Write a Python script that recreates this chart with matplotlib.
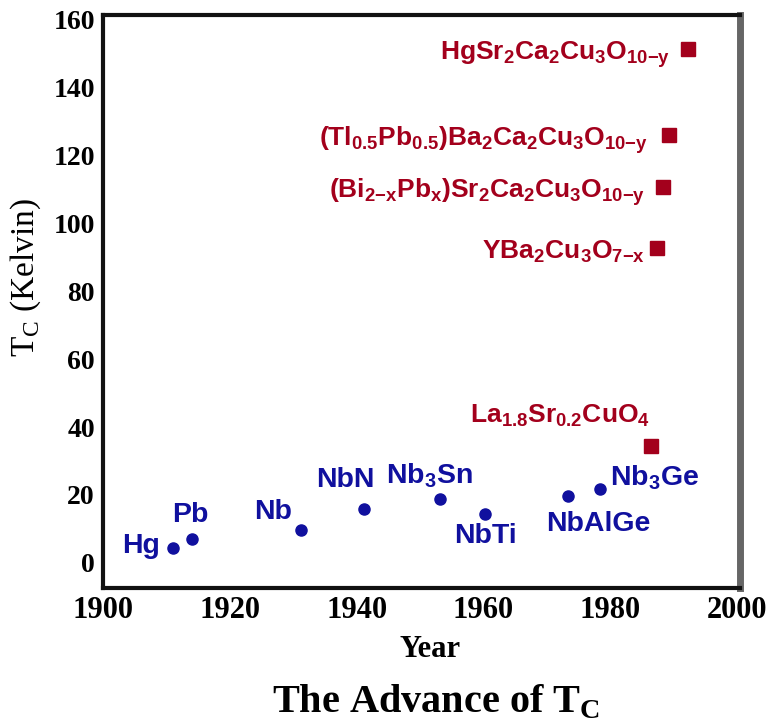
import matplotlib
import matplotlib.pyplot as plt

matplotlib.use('Agg')

# conventional (blue) and cuprate (red) superconductors: discovery year and Tc
low_names = ['Hg', 'Pb', 'Nb', 'NbN', r'Nb$_\mathregular{3}$Sn', 'NbTi', 'NbAlGe', r'Nb$_\mathregular{3}$Ge']
low_years = [1911, 1914, 1931.2, 1941.2, 1953.2, 1960.3, 1973.3, 1978.4]
low_tc = [4.4, 7.1, 9.7, 16.0, 18.8, 14.4, 19.7, 21.8]

high_names = [
    r'La$_\mathregular{1.8}$Sr$_\mathregular{0.2}$CuO$_\mathregular{4}$',
    r'YBa$_\mathregular{2}$Cu$_\mathregular{3}$O$_\mathregular{7{-}x}$',
    r'(Bi$_\mathregular{2{-}x}$Pb$_\mathregular{x}$)Sr$_\mathregular{2}$Ca$_\mathregular{2}$Cu$_\mathregular{3}$O$_\mathregular{10{-}y}$',
    r'(Tl$_\mathregular{0.5}$Pb$_\mathregular{0.5}$)Ba$_\mathregular{2}$Ca$_\mathregular{2}$Cu$_\mathregular{3}$O$_\mathregular{10{-}y}$',
    r'HgSr$_\mathregular{2}$Ca$_\mathregular{2}$Cu$_\mathregular{3}$O$_\mathregular{10{-}y}$',
]
high_years = [1986.4, 1987.4, 1988.3, 1989.3, 1992.3]
high_tc = [34.4, 92.6, 110.6, 125.9, 151.2]

year_ticks = [1900, 1920, 1940, 1960, 1980, 2000]
tc_ticks = [0, 20, 40, 60, 80, 100, 120, 140, 160]

# label placement, pixels from the marker (ha, dx, dy)
low_offsets = [('right', -13, -5), ('center', -2, 17), ('right', -9, 11), ('center', -19, 22),
               ('center', -11, 16), ('center', 0, -29), ('center', 31, -35), ('left', 10, 4)]
high_offsets = [('right', -1, 24), ('right', -12, -10), ('right', -18, -10),
                ('right', -21, -10), ('right', -18, -10)]

blue = '#10109e'
red = '#a3001c'
serif = 'Liberation Serif'
sans = 'Liberation Sans'

fig = plt.figure(figsize=(7.7, 7.26), dpi=100)
ax = fig.add_axes([0.134, 0.190, 0.827, 0.789])

ax.plot(low_years, low_tc, 'o', ms=8, color=blue, zorder=3)
ax.plot(high_years, high_tc, 's', ms=9.5, color=red, zorder=3)

for name, x, y, (ha, dx, dy) in zip(low_names, low_years, low_tc, low_offsets):
    ax.annotate(name, (x, y), xytext=(dx, dy), textcoords='offset pixels', ha=ha, va='baseline',
                color=blue, fontsize=20.5, fontweight='bold', family=sans)
for name, x, y, (ha, dx, dy) in zip(high_names, high_years, high_tc, high_offsets):
    ax.annotate(name, (x, y), xytext=(dx, dy), textcoords='offset pixels', ha=ha, va='baseline',
                color=red, fontsize=19, fontweight='bold', family=sans)

ax.set_xlim(1900, 2000.5)
ax.set_ylim(-7.4, 161.2)
ax.set_xticks(year_ticks)
ax.set_yticks(tc_ticks)
ax.tick_params(length=0)
ax.tick_params(axis='x', pad=6, labelsize=22)
ax.tick_params(axis='y', pad=6, labelsize=20)
for lab in ax.get_xticklabels() + ax.get_yticklabels():
    lab.set_family(serif)
    lab.set_fontweight('bold')

for side in ['left', 'top', 'bottom']:
    ax.spines[side].set_linewidth(3)
    ax.spines[side].set_color('#111111')
ax.spines['right'].set_linewidth(5)
ax.spines['right'].set_color('#666666')

ax.set_xlabel('Year', family=serif, fontweight='bold', fontsize=22)
ax.xaxis.set_label_coords(0.513, -0.082)
ax.set_ylabel(r'T$_\mathregular{C}$ (Kelvin)', family=serif, fontsize=24)
ax.yaxis.set_label_coords(-0.094, 0.543)

fig.text(0.566, 0.0193, r'The Advance of T$_\mathregular{C}$', ha='center', va='baseline',
         family=serif, fontweight='bold', fontsize=29)

fig.savefig('out.png', dpi=100)
